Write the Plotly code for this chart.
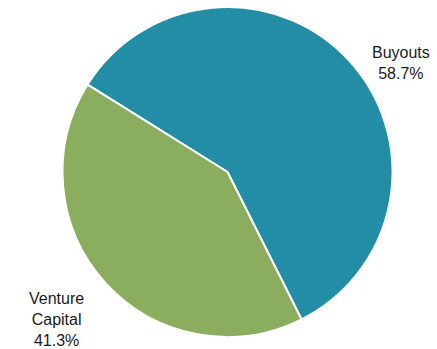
import plotly.graph_objects as go

labels = ["Buyouts", "Venture Capital"]
label_text = ["Buyouts", "Venture<br>Capital"]
values = [58.7, 41.3]
colors = ["#238DA6", "#8AAD5E"]

W, H = 437, 349
cx, cy, r = 227.5, 172, 165

fig = go.Figure(go.Pie(
    labels=labels,
    values=values,
    sort=False,
    direction="clockwise",
    rotation=-58,
    marker=dict(colors=colors, line=dict(color="white", width=2)),
    textinfo="none",
    hoverinfo="label+percent",
    showlegend=False,
    domain=dict(x=[(cx - r) / W, (cx + r) / W],
                y=[(H - cy - r) / H, (H - cy + r) / H]),
))

total = sum(values)
label_pos = [(401, 63), (56, 319)]
for lt, v, (x, y) in zip(label_text, values, label_pos):
    fig.add_annotation(
        x=x / W, y=1 - y / H, xref="paper", yref="paper",
        text=f"{lt}<br>{v / total * 100:.1f}%",
        showarrow=False, xanchor="center", yanchor="middle",
        font=dict(family="Liberation Sans, Arial, sans-serif", size=16, color="#1a1a1a"),
    )

fig.update_layout(
    width=W, height=H,
    margin=dict(l=0, r=0, t=0, b=0),
    paper_bgcolor="white",
    plot_bgcolor="white",
)

fig.write_html("out.html")
